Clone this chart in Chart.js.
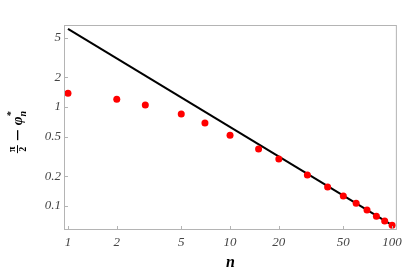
<!DOCTYPE html>
<html>
<head>
<meta charset="utf-8">
<script src="https://cdn.jsdelivr.net/npm/chart.js@4"></script>
<style>
  html, body { margin: 0; padding: 0; background: #fff; }
  #wrap { width: 407px; height: 267px; }
</style>
</head>
<body>
<div id="wrap"><canvas id="myLogPlot" width="407" height="267"></canvas></div>
<script>
// data
const nValues = [1, 2, 3, 5, 7, 10, 15, 20, 30, 40, 50, 60, 70, 80, 90, 100];
const gapValues = [1.38, 1.2, 1.05, 0.85, 0.69, 0.52, 0.377, 0.298, 0.206, 0.156, 0.126, 0.107, 0.091, 0.079, 0.0706, 0.064];
// the straight reference line, its two ends
const lineN = [1, 100];
const lineValues = [6.14, 0.0643];
// tick labels
const xTicks = [1, 2, 5, 10, 20, 50, 100];
const yTicks = [0.1, 0.2, 0.5, 1, 2, 5];

const serif = "'Liberation Serif', 'DejaVu Serif', serif";
const frameColor = "#b4b4b4";
const tickFont = { family: serif, size: 13, style: "italic" };

// frame round the plot + inward ticks
const framePlugin = {
  id: "frame",
  afterDraw(chart) {
    const { ctx, chartArea: a, scales } = chart;
    ctx.save();
    ctx.strokeStyle = frameColor;
    ctx.lineWidth = 1;
    ctx.strokeRect(a.left + 0.5, a.top + 0.5, a.right - a.left - 1, a.bottom - a.top - 1);
    ctx.beginPath();
    xTicks.forEach(v => {
      const x = Math.round(scales.x.getPixelForValue(v)) + 0.5;
      ctx.moveTo(x, a.bottom);
      ctx.lineTo(x, a.bottom - 4);
    });
    yTicks.forEach(v => {
      const y = Math.round(scales.y.getPixelForValue(v)) + 0.5;
      ctx.moveTo(a.left, y);
      ctx.lineTo(a.left + 4, y);
    });
    ctx.stroke();
    ctx.restore();
  }
};

// axis titles: n below, pi/2 - phi*_n rotated on the left
const titlesPlugin = {
  id: "titles",
  afterDraw(chart) {
    const { ctx, chartArea: a } = chart;
    ctx.save();
    ctx.fillStyle = "#000";
    ctx.font = "italic bold 16px " + serif;
    ctx.textAlign = "center";
    ctx.textBaseline = "middle";
    ctx.fillText("n", (a.left + a.right) / 2, 263);

    ctx.translate(17, 132);
    ctx.rotate(-Math.PI / 2);
    ctx.textBaseline = "alphabetic";
    const small = "bold 10px " + serif;
    const big = "italic bold 15px " + serif;
    const sub = "italic bold 10px " + serif;
    ctx.font = big;
    const phiW = ctx.measureText("\u03c6").width;
    ctx.font = sub;
    const nW = ctx.measureText("n").width;
    const fracW = 8, gap = 5, minusW = 10;
    const total = fracW + gap + minusW + gap + phiW + nW;
    let x = -total / 2;

    // fraction
    ctx.font = small;
    ctx.textAlign = "center";
    ctx.fillText("\u03c0", x + fracW / 2, -2);
    ctx.fillText("2", x + fracW / 2, 9);
    ctx.fillRect(x, 0, fracW, 1);
    x += fracW + gap;
    // minus
    ctx.fillRect(x, 0, minusW, 1.3);
    x += minusW + gap;

    ctx.textAlign = "left";
    ctx.font = big;
    ctx.fillText("\u03c6", x, 5);
    x += phiW;
    ctx.font = sub;
    ctx.fillText("*", x, -3);
    ctx.fillText("n", x, 9);
    ctx.restore();
  }
};

new Chart(document.getElementById("myLogPlot").getContext("2d"), {
  type: "scatter",
  data: {
    datasets: [
      {
        label: "points",
        data: nValues.map((n, i) => ({ x: n, y: gapValues[i] })),
        backgroundColor: "#ff0000",
        borderWidth: 0,
        pointRadius: 3.5
      },
      {
        label: "line",
        type: "line",
        data: lineN.map((n, i) => ({ x: n, y: lineValues[i] })),
        borderColor: "#000",
        borderWidth: 2,
        pointRadius: 0,
        fill: false
      }
    ]
  },
  plugins: [framePlugin, titlesPlugin],
  options: {
    responsive: false,
    animation: false,
    layout: { padding: { top: 25, right: 10, left: 0, bottom: 0 } },
    plugins: { legend: { display: false }, tooltip: { enabled: false } },
    scales: {
      x: {
        type: "logarithmic",
        min: 0.945,
        max: 107,
        grid: { display: false, drawTicks: false },
        border: { display: false },
        afterBuildTicks: s => { s.ticks = xTicks.map(v => ({ value: v })); },
        afterFit: s => { s.height = 37; },
        ticks: {
          autoSkip: false,
          maxRotation: 0,
          padding: 5,
          color: "#444",
          font: tickFont,
          callback: v => String(v)
        }
      },
      y: {
        type: "logarithmic",
        min: 0.0573,
        max: 6.73,
        grid: { display: false, drawTicks: false },
        border: { display: false },
        afterBuildTicks: s => { s.ticks = yTicks.map(v => ({ value: v })); },
        afterFit: s => { s.width = 64; },
        ticks: {
          autoSkip: false,
          padding: 3,
          color: "#444",
          font: tickFont,
          callback: v => String(v)
        }
      }
    }
  }
});
</script>
</body>
</html>
